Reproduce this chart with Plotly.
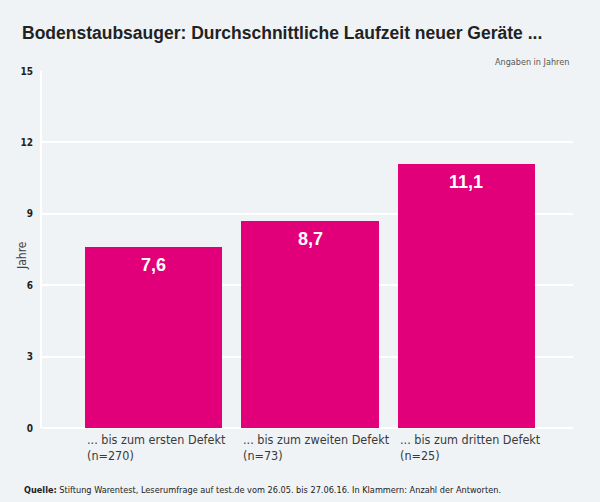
import plotly.graph_objects as go

# Data
categories = ["... bis zum ersten Defekt<br>(n=270)",
              "... bis zum zweiten Defekt<br>(n=73)",
              "... bis zum dritten Defekt<br>(n=25)"]
values = [7.6, 8.7, 11.1]
y_ticks = [0, 3, 6, 9, 12, 15]

title = "Bodenstaubsauger: Durchschnittliche Laufzeit neuer Geräte ..."
source = ("<b>Quelle:</b> Stiftung Warentest, Leserumfrage auf test.de vom 26.05. bis 27.06.16. "
          "In Klammern: Anzahl der Antworten.")

bg = "#eff3f6"
pink = "#e2007a"
narrow = "Liberation Sans Narrow, DejaVu Sans Condensed, sans-serif"

x_idx = list(range(len(values)))
bar_width = 0.88

# plot area in pixels: x 42..573, y 71..428
plot_w = 531
plot_h = 357

fig = go.Figure()
fig.add_trace(go.Bar(
    x=x_idx,
    y=values,
    width=bar_width,
    marker=dict(color=pink, line=dict(width=0)),
    showlegend=False,
    hoverinfo="skip",
))

# value labels inside bars
for i, v in enumerate(values):
    fig.add_annotation(
        x=i, y=v, xref="x", yref="y", yanchor="middle", yshift=-18,
        text=f"<b>{v:.1f}</b>".replace(".", ","), showarrow=False,
        font=dict(color="white", size=18, family="Arial, Liberation Sans, sans-serif"),
    )

# category labels, left aligned at bar edge
for i, lab in enumerate(categories):
    fig.add_annotation(
        x=i - bar_width / 2, y=0, xref="x", yref="y",
        text=lab, showarrow=False, xanchor="left", yanchor="top",
        align="left", yshift=-2,
        font=dict(family=narrow, size=12.5, color="#3a3a3a"),
    )

fig.update_layout(
    width=600, height=502,
    paper_bgcolor=bg, plot_bgcolor=bg,
    margin=dict(l=42, r=27, t=71, b=74, autoexpand=False),
    title=dict(text="<b>" + title + "</b>", x=22 / 600, xref="container", xanchor="left",
               y=1 - 33 / 502, yref="container", yanchor="middle",
               font=dict(family="Arial, Liberation Sans, sans-serif", size=17.5, color="#222222")),
    xaxis=dict(range=[-0.715, 2.683], showticklabels=False, showgrid=False,
               zeroline=False, showline=False, fixedrange=True, automargin=False),
    yaxis=dict(range=[0, 15], tickvals=y_ticks, ticktext=[str(t) for t in y_ticks],
               showgrid=True, gridcolor="white", gridwidth=2,
               zeroline=True, zerolinecolor="white", zerolinewidth=2,
               showline=True, linecolor="white", linewidth=2,
               ticks="", ticklabelstandoff=5, automargin=False,
               tickfont=dict(family=narrow, size=10, color="#222222", weight="bold")),
    bargap=0,
)

# y axis title
fig.add_annotation(
    x=(22 - 42) / plot_w, y=(428 - 256) / plot_h, xref="paper", yref="paper",
    xanchor="center", yanchor="middle", textangle=-90, text="Jahre", showarrow=False,
    font=dict(family=narrow, size=12, color="#444444"),
)

fig.add_annotation(
    x=1, y=1, xref="paper", yref="paper", xanchor="right", yanchor="bottom",
    text="Angaben in Jahren", showarrow=False, yshift=2, xshift=-2,
    font=dict(family=narrow, size=9, color="#555555"),
)

fig.add_annotation(
    x=(22 - 42) / plot_w, y=(428 - 490) / plot_h, xref="paper", yref="paper",
    xanchor="left", yanchor="middle", text=source, showarrow=False,
    font=dict(family=narrow, size=9.1, color="#222222"),
)

fig.write_html("out.html", config={"displayModeBar": False},
               post_script="document.body.style.margin='0';")
